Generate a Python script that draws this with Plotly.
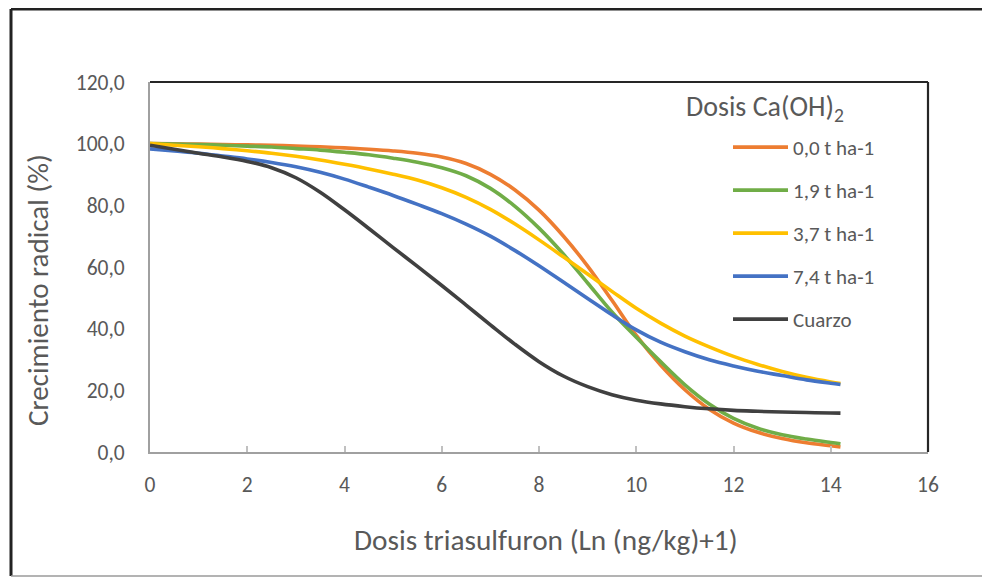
import plotly.graph_objects as go

# ---- data ----
x_dose = [0, 0.5, 1, 1.5, 2, 2.5, 3, 3.5, 4, 4.5, 5, 5.5, 6, 6.5, 7, 7.5,
          8, 8.5, 9, 9.5, 10, 10.5, 11, 11.5, 12, 12.5, 13, 13.5, 14, 14.2]

y_00 = [100, 99.94, 99.85, 99.74, 99.6, 99.44, 99.24, 98.98, 98.63, 98.18, 97.63, 96.88, 95.68, 93.55, 90.05,
        85.05, 78.43, 70.05, 60.3, 49.2, 37.8, 28.2, 20.2, 13.9, 9.4, 6.4, 4.4, 3.0, 2.0, 1.6]
y_19 = [100, 99.9, 99.7, 99.5, 99.2, 98.9, 98.4, 97.9, 97.2, 96.4, 95.3, 94.0, 92.2, 89.6, 85.5,
        79.75, 72.6, 64.2, 54.8, 45.4, 37.2, 29.3, 21.8, 15.6, 10.9, 7.7, 5.6, 4.2, 3.1, 2.7]
y_37 = [100, 99.5, 99.0, 98.4, 97.7, 96.9, 95.9, 94.7, 93.3, 91.8, 90.1, 88.2, 85.7, 82.6, 78.7,
        74.0, 68.8, 63.3, 57.7, 52.1, 46.6, 41.8, 37.6, 34.1, 31.0, 28.4, 26.1, 24.2, 22.7, 22.2]
y_74 = [98.3, 97.6, 96.9, 96.0, 95.05, 93.9, 92.5, 90.7, 88.5, 85.9, 83.2, 80.3, 77.3, 73.9, 70.0,
        65.4, 60.4, 55.1, 49.8, 44.5, 39.6, 35.6, 32.5, 29.9, 27.9, 26.2, 24.8, 23.4, 22.3, 21.9]
y_cz = [99.5, 98.2, 96.9, 95.7, 94.25, 92.2, 88.95, 84.25, 78.55, 72.5, 66.3, 60.2, 54.0, 47.65, 41.25,
        35.0, 29.3, 24.65, 21.2, 18.6, 16.8, 15.6, 14.7, 14.0, 13.5, 13.2, 12.95, 12.8, 12.65, 12.6]

series_names = ["0,0 t ha-1", "1,9 t ha-1", "3,7 t ha-1", "7,4 t ha-1", "Cuarzo"]
series_values = [y_00, y_19, y_37, y_74, y_cz]
series_colors = ["#ED7D31", "#70AD47", "#FFC000", "#4472C4", "#404040"]

x_tickvals = [0, 2, 4, 6, 8, 10, 12, 14, 16]
x_ticktext = ["0", "2", "4", "6", "8", "10", "12", "14", "16"]
y_tickvals = [0, 20, 40, 60, 80, 100, 120]
y_ticktext = ["0,0", "20,0", "40,0", "60,0", "80,0", "100,0", "120,0"]

legend_title = "Dosis Ca(OH)<sub>2</sub>"
x_title = "Dosis triasulfuron (Ln (ng/kg)+1)"
y_title = "Crecimiento radical (%)"

TXT = "#595959"
CAL = "Carlito, Lato, 'Open Sans', sans-serif"

fig = go.Figure()
for i, (name, vals, col) in enumerate(zip(series_names, series_values, series_colors)):
    fig.add_trace(go.Scatter(
        x=x_dose, y=vals, name=name, mode="lines",
        line=dict(color=col, width=3.6, shape="spline", smoothing=1.0),
        legendgroup=f"g{i}",
    ))

# page is rendered with an 8px body margin
OFF = 8
W, H = 990 - OFF, 577 - OFF
# plot area in page pixels: left 150, right 928, top 82, bottom 452
L = 150 - OFF
T = 82 - OFF
R = W - (928 - OFF)
B = H - (452 - OFF)
pw, ph = W - L - R, H - T - B

def px2x(px):
    return (px - OFF - L) / pw

def py2y(py):
    return (H - B - (py - OFF)) / ph

shapes = [
    # outer frame
    dict(type="line", xref="paper", yref="paper", x0=px2x(11), x1=px2x(1005), y0=py2y(9), y1=py2y(9),
         line=dict(color="#222222", width=3)),
    dict(type="line", xref="paper", yref="paper", x0=px2x(11), x1=px2x(11), y0=py2y(9), y1=py2y(576),
         line=dict(color="#222222", width=3)),
    dict(type="line", xref="paper", yref="paper", x0=px2x(11), x1=px2x(1005), y0=py2y(576), y1=py2y(576),
         line=dict(color="#9a9a9a", width=1.5)),
    # plot-area top and right border
    dict(type="line", xref="paper", yref="paper", x0=0, x1=1, y0=1, y1=1,
         line=dict(color="#262626", width=2.2)),
    dict(type="line", xref="paper", yref="paper", x0=1, x1=1, y0=0, y1=1,
         line=dict(color="#262626", width=2.2)),
]

annotations = [
    dict(text=legend_title, xref="paper", yref="paper",
         x=px2x(684), y=py2y(108), xanchor="left", yanchor="middle",
         showarrow=False, font=dict(family=CAL, size=28, color=TXT)),
    dict(text=x_title, xref="paper", yref="paper",
         x=px2x(546), y=py2y(540), xanchor="center", yanchor="middle",
         showarrow=False, font=dict(family=CAL, size=29.3, color=TXT)),
    dict(text=y_title, xref="paper", yref="paper", textangle=-90,
         x=px2x(38), y=py2y(290), xanchor="center", yanchor="middle",
         showarrow=False, font=dict(family=CAL, size=29, color=TXT)),
]

fig.update_layout(
    width=W, height=H,
    margin=dict(l=L, r=R, t=T, b=B, pad=0),
    paper_bgcolor="white", plot_bgcolor="white",
    font=dict(family=CAL, color=TXT, size=21),
    shapes=shapes,
    annotations=annotations,
    showlegend=True,
    legend=dict(
        x=px2x(728), y=py2y(127), xanchor="left", yanchor="top",
        font=dict(family=CAL, size=21, color=TXT),
        tracegroupgap=12.7, traceorder="grouped",
        itemwidth=55, bgcolor="rgba(0,0,0,0)",
    ),
    xaxis=dict(
        range=[0, 16], tickvals=x_tickvals, ticktext=x_ticktext,
        showgrid=False, zeroline=False,
        showline=True, linecolor="#a0a0a0", linewidth=2,
        ticks="inside", ticklen=6, tickcolor="#c0c0c0", tickwidth=1.5,
        ticklabelstandoff=12,
        tickfont=dict(family=CAL, size=21.5, color=TXT),
    ),
    yaxis=dict(
        range=[0, 120], tickvals=y_tickvals, ticktext=y_ticktext,
        showgrid=False, zeroline=False,
        showline=True, linecolor="#a0a0a0", linewidth=2,
        ticks="", ticklabelstandoff=19,
        tickfont=dict(family=CAL, size=21.5, color=TXT),
    ),
)

fig.write_html("out.html")
